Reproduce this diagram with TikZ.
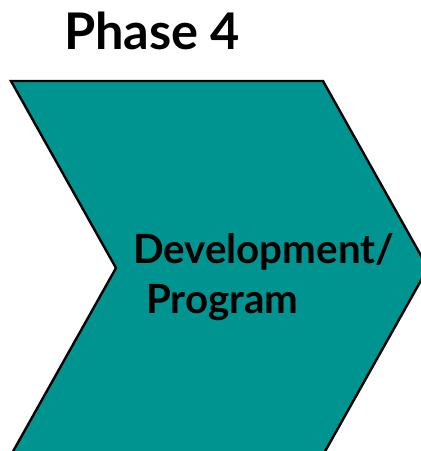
\documentclass[tikz,border=0pt]{standalone}
\usepackage{fontspec}
\setmainfont{Lato}
\definecolor{teal1}{RGB}{0,148,145}
\begin{document}
\begin{tikzpicture}[x=1pt,y=-1pt,
  chev/.style={fill=teal1,draw=black,line width=2.4pt,line join=miter},
  lbl/.style={inner sep=0pt,anchor=base west,font=\bfseries}]
\useasboundingbox (0,0) rectangle (421,451);
\begin{scope}
\clip (0,0) rectangle (421,451);
\path[chev] (11,81) -- (323,81) -- (428,268) -- (323,455) -- (11,455) -- (116,268) -- cycle;
\end{scope}
\node[lbl,font=\bfseries\fontsize{50.5}{54}\selectfont] (title) at (64,49) {Phase 4};
\node[lbl,font=\bfseries\fontsize{40.3}{46}\selectfont] (l1) at (133,263) {Development/};
\node[lbl,font=\bfseries\fontsize{40.3}{46}\selectfont] (l2) at (146,313) {Program};
\end{tikzpicture}
\end{document}
